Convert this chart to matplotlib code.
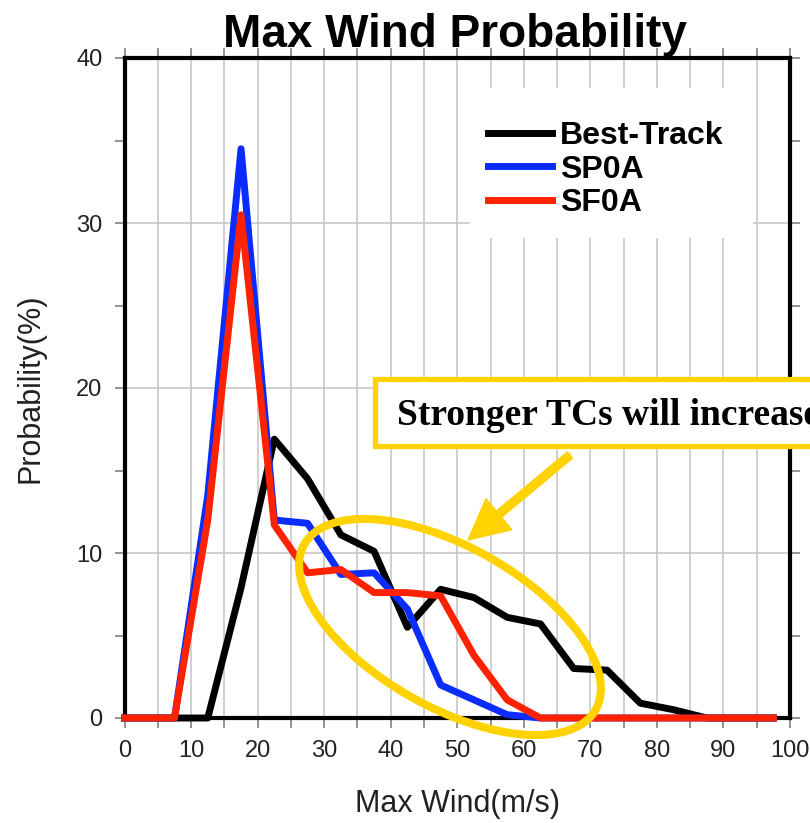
import numpy as np
import matplotlib
matplotlib.use('Agg')
import matplotlib.pyplot as plt
from matplotlib.patches import Ellipse, Rectangle
from matplotlib.ticker import MultipleLocator

# bin centres of max wind (m/s), curve starts at 0
wind = [0, 2.5, 7.5, 12.5, 17.5, 22.5, 27.5, 32.5, 37.5, 42.5, 47.5,
        52.5, 57.5, 62.5, 67.5, 72.5, 77.5, 82.5, 87.5, 92.5, 97.5]
best_track = [0, 0, 0, 0, 7.9, 16.9, 14.5, 11.1, 10.1, 5.5, 7.8,
              7.3, 6.1, 5.7, 3.0, 2.9, 0.9, 0.5, 0, 0, 0]
sp0a = [0, 0, 0, 13.5, 34.5, 12.0, 11.8, 8.7, 8.8, 6.6, 2.0,
        1.1, 0.2, 0, 0, 0, 0, 0, 0, 0, 0]
sf0a = [0, 0, 0, 12.0, 30.5, 11.7, 8.8, 9.0, 7.6, 7.6, 7.4,
        3.8, 1.1, 0, 0, 0, 0, 0, 0, 0, 0]
series_names = ['Best-Track', 'SP0A', 'SF0A']
series_colors = ['black', '#0a2dff', '#ff2200']
note = 'Stronger TCs will increase'
gold = '#ffd200'

plt.rcParams['font.family'] = ['Liberation Sans', 'DejaVu Sans']

W, H = 810, 823
fig = plt.figure(figsize=(W / 100, H / 100), dpi=100)
ax = fig.add_axes([124.6 / W, 105 / H, 665.4 / W, 660 / H])

for vals, name, col in zip([best_track, sp0a, sf0a], series_names, series_colors):
  ax.plot(wind, vals, color=col, lw=5, label=name, clip_on=False, zorder=5)

ax.set_xlim(0, 100)
ax.set_ylim(0, 40)
ax.xaxis.set_major_locator(MultipleLocator(10))
ax.xaxis.set_minor_locator(MultipleLocator(5))
ax.yaxis.set_major_locator(MultipleLocator(10))
ax.yaxis.set_minor_locator(MultipleLocator(5))
ax.grid(which='both', axis='x', color='#c4c4c4', lw=1.1)
ax.grid(which='major', axis='y', color='#c4c4c4', lw=1.1)
ax.set_axisbelow(True)
ax.tick_params(which='both', direction='out', length=7, width=1.1, color='#777777',
               top=True, right=True, labelsize=17, labelcolor='#222222', pad=9)
for sp in ax.spines.values():
  sp.set_linewidth(3)
  sp.set_zorder(4)

ax.set_xlabel('Max Wind(m/s)', fontsize=22, color='#222222', labelpad=19)
ax.set_ylabel('Probability(%)', fontsize=22, color='#222222', labelpad=22)

fig.text(455 / W, 1 - 47 / H, 'Max Wind Probability', fontsize=33, fontweight='bold',
         ha='center', va='baseline')

# white area behind the legend
ax.add_patch(Rectangle((0.519, 0.727), 0.425, 0.228, transform=ax.transAxes,
                       facecolor='white', edgecolor='none', zorder=1.5))
leg = ax.legend(loc='upper left', bbox_to_anchor=(0.546, 0.904), frameon=False,
                fontsize=23, handlelength=2.0, handletextpad=0.25, labelspacing=0.1,
                borderpad=0, borderaxespad=0)
for t in leg.get_texts():
  t.set_fontweight('bold')

# annotation: box with text, arrow and ellipse (figure pixel coordinates)
fig.patches.append(Rectangle((375, H - 446), 460, 67, transform=None,
                             facecolor='white', edgecolor=gold, lw=3.8, zorder=6))
fig.text(397 / W, 1 - 425 / H, note, fontsize=27, fontweight='bold',
         family=['Liberation Serif', 'DejaVu Serif'], ha='left', va='baseline', zorder=7)
ax.annotate('', xy=(468, H - 540), xytext=(570, H - 455), xycoords='figure pixels',
            textcoords='figure pixels',
            arrowprops=dict(arrowstyle='simple,head_width=1.45,head_length=1.45,tail_width=0.29',
                            mutation_scale=20, color=gold, shrinkA=0, shrinkB=0),
            annotation_clip=False, zorder=7)
fig.patches.append(Ellipse((450, H - 627), 335, 160, angle=-29.6, transform=None,
                           facecolor='none', edgecolor=gold, lw=5.8, zorder=7))

fig.savefig('out.png', dpi=100)
